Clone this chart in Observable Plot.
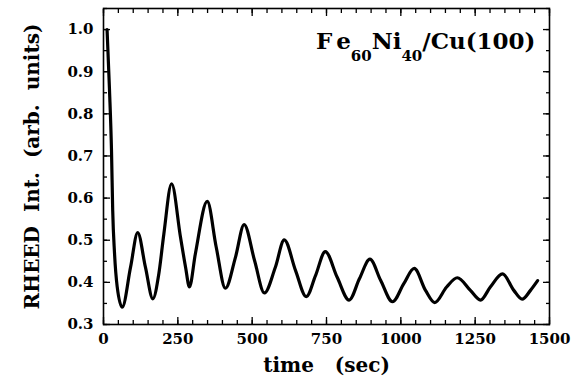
<!DOCTYPE html>
<html>
<head>
<meta charset="utf-8">
<script src="https://cdn.jsdelivr.net/npm/d3@7"></script>
<script src="https://cdn.jsdelivr.net/npm/@observablehq/plot@0.6"></script>
<style>
  body { margin: 0; background: #fff; }
  #chart svg { background: #fff; }
  #chart svg text { font-family: 'DejaVu Serif', serif; font-weight: bold; }
</style>
</head>
<body>
<div id="chart"></div>
<script>
// RHEED intensity oscillations, Fe60Ni40/Cu(100)
const timeSec = [12, 20, 27, 31, 37, 46, 63, 91, 115, 141, 166, 186, 203, 229, 259, 276, 289, 309, 349, 379,
  410, 444, 473, 508, 541, 578, 608, 646, 682, 713, 746, 786, 826, 861, 896, 932, 972, 1010, 1045, 1083,
  1114, 1154, 1190, 1234, 1268, 1301, 1342, 1380, 1408, 1436, 1460];
const intensity = [1.00, 0.86, 0.71, 0.57, 0.47, 0.39, 0.341, 0.436, 0.518, 0.436, 0.361, 0.42, 0.515, 0.634, 0.507, 0.436, 0.389, 0.468, 0.592, 0.484,
  0.386, 0.46, 0.537, 0.452, 0.375, 0.436, 0.501, 0.428, 0.366, 0.416, 0.473, 0.412, 0.358, 0.409, 0.455, 0.405, 0.354, 0.397, 0.433, 0.381,
  0.352, 0.389, 0.411, 0.381, 0.358, 0.389, 0.420, 0.381, 0.360, 0.381, 0.404];

const xMajorTicks = [0, 250, 500, 750, 1000, 1250, 1500];
const xMinorTicks = d3.range(0, 1501, 50);
const yMajorTicks = [0.3, 0.4, 0.5, 0.6, 0.7, 0.8, 0.9, 1.0];
const yMinorTicks = d3.range(0.3, 1.051, 0.05);

const xTitle = "time\u00a0\u00a0\u00a0(sec)";
const yTitle = "RHEED\u00a0\u00a0Int.\u00a0\u00a0(arb.\u00a0\u00a0units)";
const annotation = "Fe60Ni40/Cu(100)";

const data = timeSec.map((t, i) => ({t, v: intensity[i]}));
const font = "'DejaVu Serif', serif";
const noText = () => "";

const chart = Plot.plot({
  width: 574,
  height: 386,
  marginLeft: 103,
  marginRight: 25,
  marginTop: 8,
  marginBottom: 62,
  x: {domain: [0, 1500], label: null},
  y: {domain: [0.3, 1.05], label: null},
  style: {fontFamily: font, fontWeight: "bold", color: "black", background: "white"},
  marks: [
    // minor ticks, all four sides, pointing inward
    Plot.axisX(xMinorTicks, {anchor: "bottom", tickSize: -4, tickFormat: noText, label: null, strokeWidth: 1.3}),
    Plot.axisX(xMinorTicks, {anchor: "top", tickSize: -4, tickFormat: noText, label: null, strokeWidth: 1.3}),
    Plot.axisY(yMinorTicks, {anchor: "left", tickSize: -4, tickFormat: noText, label: null, strokeWidth: 1.3}),
    Plot.axisY(yMinorTicks, {anchor: "right", tickSize: -4, tickFormat: noText, label: null, strokeWidth: 1.3}),
    // major ticks
    Plot.axisX(xMajorTicks, {anchor: "bottom", tickSize: -7, tickFormat: noText, label: null, strokeWidth: 1.3}),
    Plot.axisX(xMajorTicks, {anchor: "top", tickSize: -7, tickFormat: noText, label: null, strokeWidth: 1.3}),
    Plot.axisY(yMajorTicks, {anchor: "left", tickSize: -7, tickFormat: noText, label: null, strokeWidth: 1.3}),
    Plot.axisY(yMajorTicks, {anchor: "right", tickSize: -7, tickFormat: noText, label: null, strokeWidth: 1.3}),
    // tick labels
    Plot.axisX(xMajorTicks, {anchor: "bottom", tickSize: 0, tickPadding: 9, tickFormat: d3.format("d"), label: null, fontSize: 15, fontWeight: "bold", fontFamily: font}),
    Plot.axisY(yMajorTicks, {anchor: "left", tickSize: 0, tickPadding: 10, tickFormat: d3.format(".1f"), label: null, fontSize: 15, fontWeight: "bold", fontFamily: font}),
    Plot.frame({stroke: "black", strokeWidth: 1.6}),
    Plot.line(data, {x: "t", y: "v", stroke: "black", strokeWidth: 3.2, curve: "monotone-x"}),
    // axis titles
    Plot.text([xTitle], {frameAnchor: "bottom", dy: 47.6, fontSize: 20, fontWeight: "bold", fontFamily: font, fill: "black"}),
    Plot.text([yTitle], {frameAnchor: "left", rotate: -90, dx: -71.4, textAnchor: "middle", fontSize: 20, fontWeight: "bold", fontFamily: font, fill: "black"}),
    // annotation
    Plot.text([annotation], {frameAnchor: "top-right", dx: -14, dy: 24, lineAnchor: "top", textAnchor: "end", fontSize: 23, fontWeight: "bold", fontFamily: font, fill: "black"})
  ]
});

document.getElementById("chart").appendChild(chart);

// Rich-text formatting of the annotation (subscripts)
d3.select(chart).selectAll("text")
  .filter(function() { return this.textContent === annotation; })
  .each(function() {
    const ann = d3.select(this);
    ann.text(null);
    const parts = [
      {s: "F", dx: 0, dy: 0, size: 23},
      {s: "e", dx: 5, dy: 0, size: 23},
      {s: "60", dx: 0, dy: 12, size: 15},
      {s: "Ni", dx: 0, dy: -12, size: 23},
      {s: "40", dx: 0, dy: 12, size: 15},
      {s: "/Cu(100)", dx: 0, dy: -12, size: 23}
    ];
    for (const p of parts) {
      const ts = ann.append("tspan").text(p.s).attr("font-size", p.size);
      if (p.dx) ts.attr("dx", p.dx);
      if (p.dy) ts.attr("dy", p.dy);
    }
  });
</script>
</body>
</html>
